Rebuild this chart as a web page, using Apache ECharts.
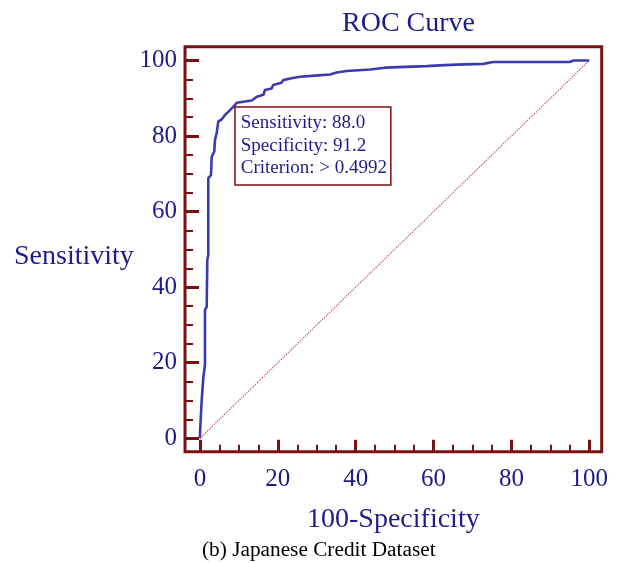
<!DOCTYPE html>
<html>
<head>
<meta charset="utf-8">
<script src="https://cdn.jsdelivr.net/npm/echarts@6/dist/echarts.min.js"></script>
<style>
html,body{margin:0;padding:0;background:#fff;}
#chart{width:626px;height:563px;}
</style>
</head>
<body>
<div id="chart"></div>
<script>
// ROC curve points (100-Specificity, Sensitivity)
const fpr = [0, 0, 0.44, 0.85, 1.28, 1.28, 1.72, 1.88, 2.13, 2.13, 2.83, 3.0, 3.67, 3.85, 4.29, 4.70, 5.57, 6.42, 7.27, 8.8, 9.43, 13.3, 14.6, 16.3, 16.7, 18.4, 18.8, 20.9, 21.4, 23.5, 25.7, 29.5, 33.4, 35.1, 37.7, 43.7, 47.5, 58.2, 61.6, 65.9, 72.8, 75.3, 95.0, 95.9, 100];
const tpr = [0, 1.4, 10.1, 16.0, 19.4, 34.0, 34.8, 47.2, 48.5, 68.8, 69.7, 74.5, 75.9, 79.0, 80.8, 83.8, 84.4, 85.6, 86.4, 88.0, 88.8, 89.4, 90.4, 90.9, 92.2, 92.6, 93.5, 94.1, 94.8, 95.3, 95.7, 96.0, 96.3, 96.8, 97.2, 97.6, 98.1, 98.5, 98.7, 98.9, 99.1, 99.6, 99.6, 100, 100];
const diagonal = [[0, 0], [100, 100]];
const majorTicks = [0, 20, 40, 60, 80, 100];
const minorTicks = [5, 10, 15, 25, 30, 35, 45, 50, 55, 65, 70, 75, 85, 90, 95];
const operatingPoint = [8.8, 88.0];
const sensitivity = '88.0';
const specificity = '91.2';
const criterion = '> 0.4992';
const titleText = 'ROC Curve';
const xName = '100-Specificity';
const yName = 'Sensitivity';
const caption = '(b) Japanese Credit Dataset';

const navy = '#1c1c8c';
const frame = '#7a1010';
const serif = 'Liberation Serif, Times New Roman, serif';

const xMin = -3.85, xMax = 103.19, yMin = -3.55, yMax = 103.65;

function axisX(ticks, len, width, withLabel, name) {
  return {
    type: 'value', gridIndex: 0, position: 'bottom', min: xMin, max: xMax,
    name: name || '', nameLocation: 'middle', nameGap: 54,
    nameTextStyle: {fontFamily: serif, fontSize: 28, color: navy},
    axisLine: {show: false, onZero: false},
    splitLine: {show: false},
    axisTick: {show: true, inside: true, length: len, customValues: ticks, lineStyle: {color: frame, width: width}},
    axisLabel: withLabel ? {show: true, customValues: ticks, margin: 15, fontFamily: serif, fontSize: 25, color: navy} : {show: false}
  };
}
function axisY(ticks, len, width, withLabel) {
  return {
    type: 'value', gridIndex: 0, position: 'left', min: yMin, max: yMax,
    axisLine: {show: false, onZero: false},
    splitLine: {show: false},
    axisTick: {show: true, inside: true, length: len, customValues: ticks, lineStyle: {color: frame, width: width}},
    axisLabel: withLabel ? {show: true, customValues: ticks, margin: 8, fontFamily: serif, fontSize: 25, color: navy} : {show: false}
  };
}

const chart = echarts.init(document.getElementById('chart'), null, {renderer: 'canvas'});
chart.setOption({
  animation: false,
  backgroundColor: '#fff',
  title: [
    {text: titleText, left: 342, top: 10, padding: 0,
     textStyle: {fontFamily: serif, fontSize: 28, fontWeight: 'normal', color: navy}},
    {text: caption, left: 202, top: 540, padding: 0,
     textStyle: {fontFamily: serif, fontSize: 21.3, fontWeight: 'normal', color: '#000'}}
  ],
  graphic: [
    {type: 'text', x: 14, y: 257, silent: true,
     style: {text: yName, fontFamily: serif, fontSize: 28, fill: navy, textAlign: 'left', textVerticalAlign: 'middle'}}
  ],
  grid: {left: 185, top: 46.7, width: 416.7, height: 405, show: true,
         borderColor: frame, borderWidth: 3, backgroundColor: 'transparent'},
  xAxis: [axisX(majorTicks, 12, 3, true, xName), axisX(minorTicks, 7, 2, false)],
  yAxis: [axisY(majorTicks, 14, 3, true), axisY(minorTicks, 8, 2, false)],
  series: [
    {
      type: 'line', xAxisIndex: 0, yAxisIndex: 0,
      data: diagonal, symbol: 'none', silent: true,
      lineStyle: {color: '#c04858', width: 1.2, type: 'dotted'}
    },
    {
      type: 'line', xAxisIndex: 0, yAxisIndex: 0,
      data: fpr.map((x, i) => [x, tpr[i]]),
      symbol: 'none', silent: true,
      lineStyle: {color: '#3a3cae', width: 2.6},
      markPoint: {
        silent: true,
        symbol: 'rect', symbolSize: 1,
        itemStyle: {color: 'transparent'},
        emphasis: {disabled: true},
        data: [{coord: operatingPoint}],
        label: {
          show: true, position: [2, 2.5],
          formatter: 'Sensitivity: ' + sensitivity + '\nSpecificity: ' + specificity + '\nCriterion: ' + criterion,
          fontFamily: serif, fontSize: 19, lineHeight: 22.5, color: navy,
          backgroundColor: '#fff', borderColor: frame, borderWidth: 1.5,
          padding: [4, 3, 5, 5], align: 'left', verticalAlign: 'top'
        }
      }
    }
  ]
});
</script>
</body>
</html>
